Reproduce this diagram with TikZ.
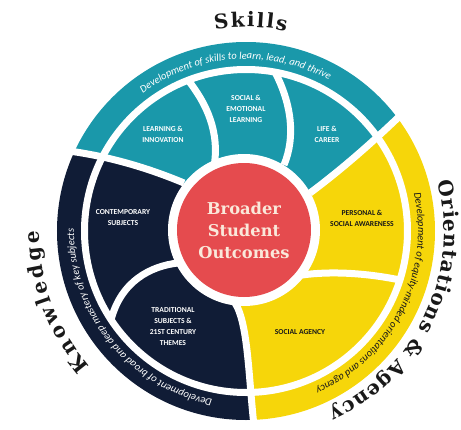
\documentclass[tikz,border=0pt]{standalone}
\usepackage{fontspec}
\usetikzlibrary{decorations.text}
\newfontfamily\cfont{Carlito}
\newfontfamily\sfont{DejaVu Serif}
\definecolor{teal1}{RGB}{26,152,170}
\definecolor{navy1}{RGB}{16,28,54}
\definecolor{yel1}{RGB}{246,214,10}
\definecolor{red1}{RGB}{229,75,78}
\definecolor{cream1}{RGB}{250,232,218}
\definecolor{ink1}{RGB}{25,25,25}
\begin{document}
\begin{tikzpicture}[x=1pt,y=1pt,
  sec/.style={font=\cfont\bfseries\fontsize{7.6}{11}\selectfont, align=center, inner sep=0pt},
  gap/.style={draw=white, line width=7pt},
]
\useasboundingbox (-246,-198) rectangle (215,231);
% divider end points
\coordinate (Ai) at (-62,48);   \coordinate (Ao) at (-195,82);
\coordinate (Bi) at (64,38);    \coordinate (Bo) at (160,121);
\coordinate (Ci) at (-14,-68);  \coordinate (Co) at (8,-195);
\coordinate (D1o) at (-58,151); \coordinate (D1i) at (-32,64);
\coordinate (D2o) at (29,159);  \coordinate (D2i) at (38,66);
\coordinate (Ei) at (56,-44);   \coordinate (Eo) at (154,-49);
\coordinate (Fi) at (-68,-32);  \coordinate (Fo) at (-135,-89);
% colour regions
\begin{scope}
\clip (0,0) circle[radius=189pt];
\fill[teal1] (0,0) -- (Ai) .. controls (-105,66) and (-150,78) .. (Ao) -- (150:260pt) -- (90:260pt) -- (40:260pt) -- (Bo) .. controls (130,92) and (100,65) .. (Bi) -- cycle;
\fill[yel1] (0,0) -- (Bi) .. controls (100,65) and (130,92) .. (Bo) -- (30:260pt) -- (-30:260pt) -- (-80:260pt) -- (Co) .. controls (2,-140) and (2,-85) .. (Ci) -- cycle;
\fill[navy1] (0,0) -- (Ci) .. controls (2,-85) and (2,-140) .. (Co) -- (-100:260pt) -- (-150:260pt) -- (170:260pt) -- (Ao) .. controls (-150,78) and (-105,66) .. (Ai) -- cycle;
\end{scope}
% white gaps
\draw[gap] (0,0) circle[radius=161.5pt];
\draw[gap] (Ai) .. controls (-105,66) and (-150,78) .. (Ao);
\draw[gap] (Bi) .. controls (100,65) and (130,92) .. (Bo);
\draw[gap] (Ci) .. controls (2,-85) and (2,-140) .. (Co);
\draw[gap] (D1o) .. controls (-40,128) and (-26,100) .. (D1i);
\draw[gap] (D2o) .. controls (45,128) and (50,95) .. (D2i);
\draw[gap] (Ei) .. controls (85,-40) and (120,-42) .. (Eo);
\draw[gap] (Fi) .. controls (-95,-35) and (-125,-50) .. (Fo);
% centre
\fill[white] (-2,1) circle[radius=76pt];
\node[circle, fill=red1, minimum size=134pt, inner sep=0pt, text=cream1,
  font=\sfont\bfseries\fontsize{16.3}{22}\selectfont, align=center] (core) at (-2,1) {Broader\\Student\\Outcomes};
% sector labels
\node[sec, text=white] (li) at (-83,97) {LEARNING \&\\INNOVATION};
\node[sec, text=white] (sel) at (0,122) {SOCIAL \&\\EMOTIONAL\\LEARNING};
\node[sec, text=white] (lc) at (81,97) {LIFE \&\\CAREER};
\node[sec, text=white] (cs) at (-123,13) {CONTEMPORARY\\SUBJECTS};
\node[sec, text=white] (ts) at (-73,-96) {TRADITIONAL\\SUBJECTS \&\\21ST CENTURY\\THEMES};
\node[sec, text=ink1] (psa) at (116,13) {PERSONAL \&\\SOCIAL AWARENESS};
\node[sec, text=ink1] (sa) at (54,-101) {SOCIAL AGENCY};
% band texts
\path[decorate, decoration={text along path, text align=center,
  text={|\cfont\itshape\fontsize{10.5}{12}\selectfont\color{white}|Development of skills to learn, lead, and thrive}}]
  (150:172pt) arc[start angle=150, end angle=38, radius=172pt];
\path[decorate, decoration={text along path, text align=center,
  text={|\cfont\itshape\fontsize{10.5}{12}\selectfont\color{white}|Development of broad and deep mastery of key subjects}}]
  (275:172pt) arc[start angle=275, end angle=163, radius=172pt];
\path[decorate, decoration={text along path, text align=center,
  text={|\cfont\itshape\fontsize{10.5}{12}\selectfont\color{ink1}|Development of equity-minded orientations and agency}}]
  (30:172pt) arc[start angle=30, end angle=-83.4, radius=172pt];
% titles
\path[decorate, decoration={text along path, text align={fit to path},
  text={|\sfont\bfseries\fontsize{20}{24}\selectfont\color{ink1}|Skills}}]
  (98.8:204pt) arc[start angle=98.8, end angle=78.6, radius=204pt];
\path[decorate, decoration={text along path, text align={fit to path},
  text={|\sfont\bfseries\fontsize{20}{24}\selectfont\color{ink1}|Knowledge}}]
  (221:207pt) arc[start angle=221, end angle=180, radius=207pt];
\path[decorate, decoration={text along path, text align={fit to path},
  text={|\sfont\bfseries\fontsize{20}{24}\selectfont\color{ink1}|Orientations {\&} Agency}}]
  (14.5:198pt) arc[start angle=14.5, end angle=-65, radius=198pt];
\end{tikzpicture}
\end{document}
